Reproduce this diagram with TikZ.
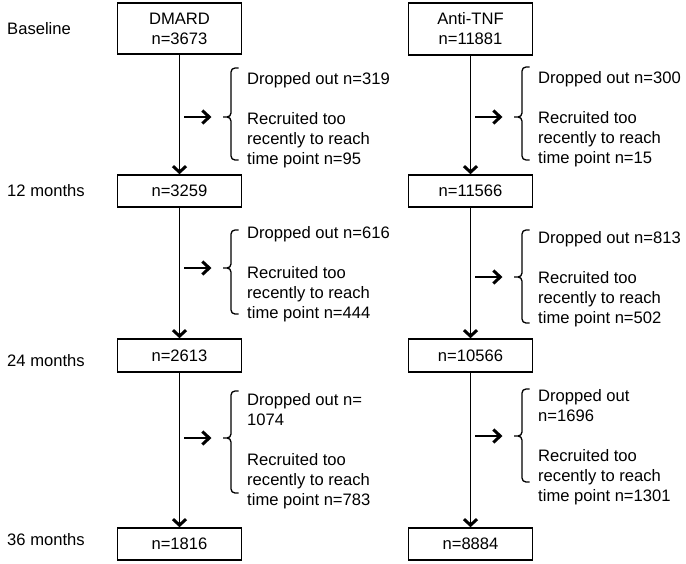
\documentclass[tikz,border=0pt]{standalone}
\usepackage{fontspec}
\setmainfont{Liberation Sans}
\usepackage{tikz}
\usetikzlibrary{arrows.meta}
\tikzstyle{flowChart} = [x = 1pt, y = -1pt, font=\fontsize{16.6}{20}\selectfont]
\tikzstyle{stageBox} = [draw, line width=1.6pt, minimum width=124pt, inner sep=0pt, align=center]
\tikzstyle{timeLabel} = [anchor=west, inner sep=0pt]
\tikzstyle{flowArrow} = [line width=1.4pt, -{Straight Barb[length=6pt, width=13pt, line width=3pt]}]
\tikzstyle{sideArrow} = [line width=1.4pt, -{Straight Barb[length=7pt, width=13pt, line width=3pt]}]
\tikzstyle{bracketLine} = [line width=1.3pt, rounded corners=4pt]
\tikzstyle{dropText} = [anchor=north west, inner sep=0pt, align=left]
\newcommand{\dropBranch}[7]{
  \coordinate (#1From) at (#2 + 4.5, #3);
  \coordinate (#1To) at (#2 + 32, #3);
  \draw [sideArrow] (#1From) -- (#1To);
  \draw [bracketLine] (#2 + 59, #4) -- (#2 + 51.5, #4) -- (#2 + 51.5, #3) -- (#2 + 43.5, #3)
                      (#2 + 43.5, #3) -- (#2 + 51.5, #3) -- (#2 + 51.5, #5) -- (#2 + 59, #5);
  \node [dropText] (#1Text) at (#2 + 67.5, #6) {#7};
}

\begin{document}
\begin{tikzpicture}[flowChart]
  \useasboundingbox (0,0) rectangle (686,563);

  \node [timeLabel] (timeBase) at (7,29) {Baseline};
  \node [timeLabel] (time12) at (7,191) {12 months};
  \node [timeLabel] (time24) at (7,361) {24 months};
  \node [timeLabel] (time36) at (7,540) {36 months};

  \node [stageBox, minimum height=51pt] (dmardBase) at (179.5,28.5) {DMARD\\n=3673};
  \node [stageBox, minimum height=32pt] (dmard12) at (179.5,191) {n=3259};
  \node [stageBox, minimum height=33pt] (dmard24) at (179.5,355.5) {n=2613};
  \node [stageBox, minimum height=32pt] (dmard36) at (179.5,544) {n=1816};

  \node [stageBox, minimum height=52pt] (antiBase) at (470.5,29) {Anti-TNF\\n=11881};
  \node [stageBox, minimum height=32pt] (anti12) at (470.5,191) {n=11566};
  \node [stageBox, minimum height=33pt] (anti24) at (470.5,355.5) {n=10566};
  \node [stageBox, minimum height=32pt] (anti36) at (470.5,544) {n=8884};

  \draw [flowArrow] (dmardBase) -- (dmard12);
  \draw [flowArrow] (dmard12) -- (dmard24);
  \draw [flowArrow] (dmard24) -- (dmard36);
  \draw [flowArrow] (antiBase) -- (anti12);
  \draw [flowArrow] (anti12) -- (anti24);
  \draw [flowArrow] (anti24) -- (anti36);

  % losses between time points
  \dropBranch{dmardLossA}{179.5}{117}{68}{160}{72}{Dropped out n=319\\[20pt]Recruited too\\recently to reach\\time point n=95}
  \dropBranch{dmardLossB}{179.5}{268}{230}{314}{226}{Dropped out n=616\\[20pt]Recruited too\\recently to reach\\time point n=444}
  \dropBranch{dmardLossC}{179.5}{438}{391}{493}{393}{Dropped out n=\\1074\\[20pt]Recruited too\\recently to reach\\time point n=783}
  \dropBranch{antiLossA}{470.5}{117}{67}{160}{71}{Dropped out n=300\\[20pt]Recruited too\\recently to reach\\time point n=15}
  \dropBranch{antiLossB}{470.5}{277}{230}{323}{231}{Dropped out n=813\\[20pt]Recruited too\\recently to reach\\time point n=502}
  \dropBranch{antiLossC}{470.5}{436}{389}{482}{389}{Dropped out\\n=1696\\[20pt]Recruited too\\recently to reach\\time point n=1301}
\end{tikzpicture}
\end{document}
